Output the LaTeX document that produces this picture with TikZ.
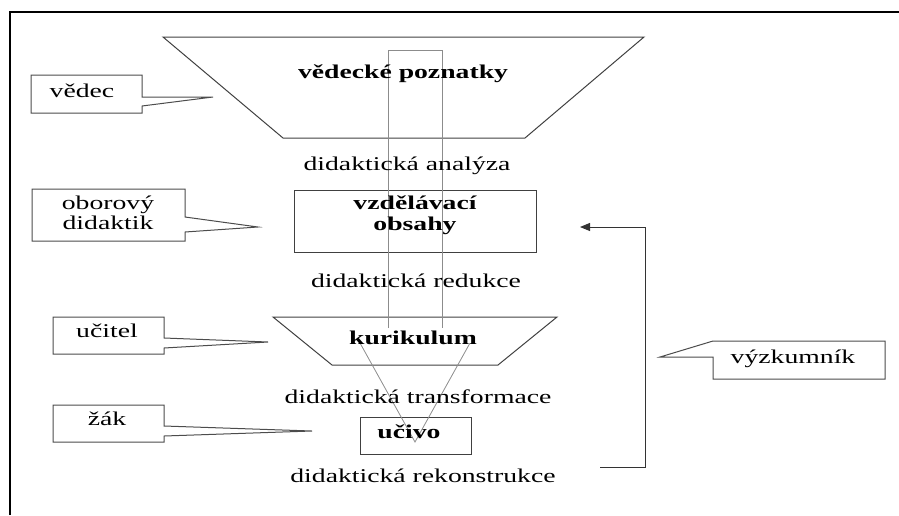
\documentclass[tikz,border=0pt]{standalone}
\usepackage{fontspec}
\setmainfont{Liberation Serif}[FakeStretch=1.42]
\usetikzlibrary{arrows.meta}
\begin{document}
\begin{tikzpicture}[x=1pt,y=-1pt,
  lbl/.style={font=\fontsize{19.5}{20}\selectfont, inner sep=0pt, anchor=base, align=center, text=black},
  blbl/.style={font=\fontsize{19.5}{21}\selectfont\bfseries, inner sep=0pt, anchor=base, align=center, text=black},
  shp/.style={draw=black!75, line width=1pt},
  funnel/.style={draw=black!45, line width=0.8pt},
  callout/.style={draw=black!70, line width=1pt, line join=miter},
  frame/.style={draw=black, line width=2.6pt},
  fb/.style={draw=black!80, line width=1pt, -{Triangle[length=10pt,width=8pt]}}
]
\useasboundingbox (0,0) rectangle (899,515);
% frame
\draw[frame] (10,515) -- (10,12) -- (899,12);

% shapes
\draw[shp] (163,37) -- (644,37) -- (525,138) -- (283,138) -- cycle;
\draw[shp] (294,190) rectangle (536,252);
\draw[shp] (273,317) -- (557,317) -- (498,365) -- (332,365) -- cycle;
\draw[shp] (360,417) rectangle (471,454);

% funnel
\draw[funnel] (388,328) -- (388,50) -- (442,50) -- (442,328);
\coordinate (fl) at (360,343);
\coordinate (fr) at (470,343);
\coordinate (ft) at (415,442);
\draw[funnel] (fl) -- (ft) -- (fr);

% texts
\node[blbl] (vp) at (403,78) {vědecké poznatky};
\node[lbl] (an) at (407,170) {didaktická analýza};
\node[blbl] (vo) at (415,230) {vzdělávací\\obsahy};
\node[lbl] (re) at (416,287) {didaktická redukce};
\node[blbl] (ku) at (413,344) {kurikulum};
\node[lbl] (tr) at (418,403) {didaktická transformace};
\node[blbl] (uc) at (409,438) {učivo};
\node[lbl] (rk) at (423,482) {didaktická rekonstrukce};

% callouts
\draw[callout,fill=white] (31,75) -- (142,75) -- (142,97) -- (213,97) -- (142,106) -- (142,113) -- (31,113) -- cycle;
\node[lbl] (ved) at (82,97) {vědec};
\draw[callout,fill=white] (32,189) -- (185,189) -- (185,217) -- (258,227) -- (185,232) -- (185,241) -- (32,241) -- cycle;
\node[lbl] (obd) at (108,229) {oborový\\didaktik};
\draw[callout,fill=white] (53,317) -- (164,317) -- (164,338) -- (268,342) -- (164,348) -- (164,354) -- (53,354) -- cycle;
\node[lbl] (uct) at (107,337) {učitel};
\draw[callout,fill=white] (53,405) -- (164,405) -- (164,426) -- (312,431) -- (164,436) -- (164,442) -- (53,442) -- cycle;
\node[lbl] (zak) at (107,425) {žák};
\draw[callout,fill=white] (713,341) -- (885,341) -- (885,379) -- (713,379) -- (713,357) -- (660,357) -- cycle;
\node[lbl] (vyz) at (793,363) {výzkumník};

% feedback arrow
\coordinate (fbs) at (600,467);
\coordinate (fbc1) at (645,467);
\coordinate (fbc2) at (645,227);
\coordinate (fbe) at (580,227);
\draw[fb] (fbs) -- (fbc1) -- (fbc2) -- (fbe);
\end{tikzpicture}
\end{document}
